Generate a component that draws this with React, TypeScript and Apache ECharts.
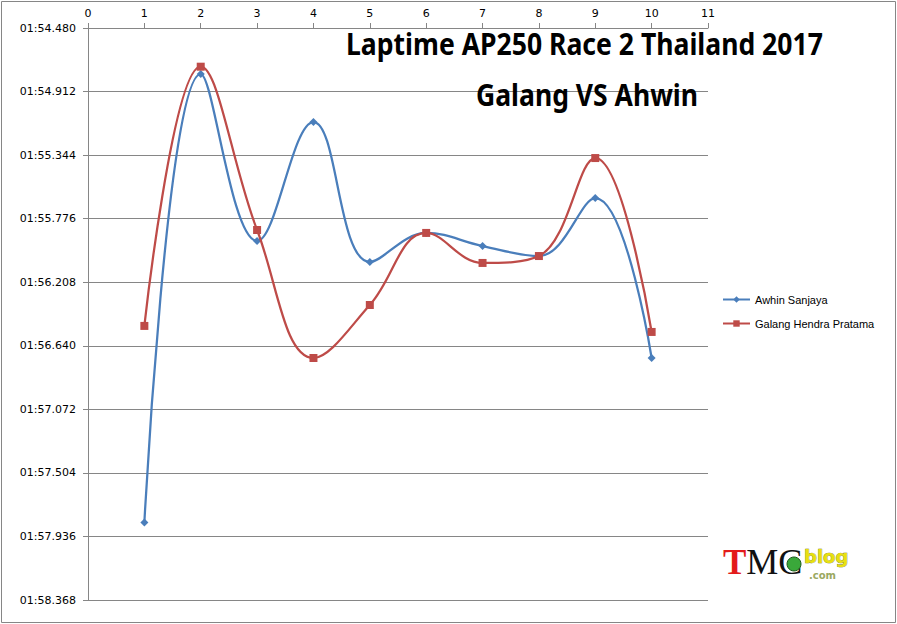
import React, { useEffect, useRef } from "react";
import * as echarts from "echarts";

const laps = [1, 2, 3, 4, 5, 6, 7, 8, 9, 10];
const awhinTimes = ["1:57.842", "1:54.793", "1:55.928", "1:55.119", "1:56.070", "1:55.873", "1:55.962", "1:56.030", "1:55.636", "1:56.723"];
const galangTimes = ["1:56.505", "1:54.743", "1:55.853", "1:56.723", "1:56.363", "1:55.873", "1:56.077", "1:56.030", "1:55.364", "1:56.546"];
const seriesNames = ["Awhin Sanjaya", "Galang Hendra Pratama"];
const titleLines = ["Laptime AP250 Race 2 Thailand 2017", "Galang VS Ahwin"];
const yMin = 114.48;
const yMax = 118.368;
const yStep = 0.432;

const parseLap = (s: string) => {
  const [m, sec] = s.split(":");
  return Number(m) * 60 + Number(sec);
};

const fmtLap = (v: number) => {
  const t = Math.round(v * 1000);
  const m = Math.floor(t / 60000);
  const s = (t - m * 60000) / 1000;
  return String(m).padStart(2, "0") + ":" + s.toFixed(3).padStart(6, "0");
};

const measure = (text: string, font: string) => {
  const c = document.createElement("canvas").getContext("2d");
  if (!c) return 1;
  c.font = font;
  return c.measureText(text).width || 1;
};

export default function App() {
  const ref = useRef<HTMLDivElement>(null);
  useEffect(() => {
    if (!ref.current) return;
    const chart = echarts.init(ref.current, undefined, { renderer: "svg" });
    const titleFont = 'bold 31px "Noto Sans"';
    const t1w = measure(titleLines[0], titleFont);
    const t2w = measure(titleLines[1], titleFont);
    const axisColor = "#868686";
    const blue = "#4A7EBB";
    const red = "#BE4B48";
    chart.setOption({
      animation: false,
      backgroundColor: "#ffffff",
      grid: { left: 88, top: 28, right: 189, bottom: 24, containLabel: false },
      xAxis: {
        type: "value",
        position: "top",
        min: 0,
        max: 11,
        interval: 1,
        axisLine: { show: true, lineStyle: { color: axisColor, width: 1 } },
        axisTick: { show: true, inside: false, length: 5, lineStyle: { color: axisColor } },
        axisLabel: { color: "#000", fontSize: 11, fontFamily: "DejaVu Sans", margin: 9 },
        splitLine: { show: false },
      },
      yAxis: {
        type: "value",
        inverse: true,
        min: yMin,
        max: yMax,
        interval: yStep,
        axisLine: { show: true, lineStyle: { color: axisColor, width: 1 } },
        axisTick: { show: true, inside: false, length: 5, lineStyle: { color: axisColor } },
        axisLabel: { color: "#000", fontSize: 11, fontFamily: "DejaVu Sans", margin: 12, formatter: (v: number) => fmtLap(v) },
        splitLine: { show: true, lineStyle: { color: axisColor, width: 1 } },
      },
      legend: {
        orient: "vertical",
        left: 722,
        top: 294,
        padding: 0,
        itemWidth: 27,
        itemHeight: 8,
        itemGap: 13,
        textStyle: { color: "#000", fontSize: 11, fontFamily: "Liberation Sans" },
        data: seriesNames,
      },
      series: [
        {
          name: seriesNames[0],
          type: "line",
          smooth: 0.4,
          symbol: "diamond",
          symbolSize: 8,
          data: laps.map((l, i) => [l, parseLap(awhinTimes[i])]),
          lineStyle: { color: blue, width: 2.25 },
          itemStyle: { color: blue },
          z: 3,
        },
        {
          name: seriesNames[1],
          type: "line",
          smooth: 0.4,
          symbol: "rect",
          symbolSize: 8,
          data: laps.map((l, i) => [l, parseLap(galangTimes[i])]),
          lineStyle: { color: red, width: 2.25 },
          itemStyle: { color: red },
          z: 4,
        },
      ],
      graphic: [
        {
          type: "rect",
          shape: { x: 1.5, y: 1.5, width: 894, height: 621 },
          style: { fill: "none", stroke: axisColor, lineWidth: 1 },
          silent: true,
          z: 0,
        },
        {
          type: "text",
          x: 346,
          y: 27,
          scaleX: 477 / t1w,
          style: { text: titleLines[0], font: titleFont, fill: "#000", align: "left", verticalAlign: "top" },
          z: 10,
        },
        {
          type: "text",
          x: 476,
          y: 78,
          scaleX: 222 / t2w,
          style: { text: titleLines[1], font: titleFont, fill: "#000", align: "left", verticalAlign: "top" },
          z: 10,
        },
        {
          type: "text",
          x: 723,
          y: 547,
          style: {
            text: "{t|T}{mc|MC}",
            verticalAlign: "top",
            rich: {
              t: { font: 'bold 35px "Liberation Serif"', fill: "#e31b1b", lineHeight: 30 },
              mc: { font: '36px "Liberation Serif"', fill: "#111", lineHeight: 30 },
            },
          },
          z: 10,
        },
        {
          type: "circle",
          shape: { cx: 794, cy: 564, r: 7 },
          style: { fill: "#3aa83a", stroke: "#1a5a1a", lineWidth: 1 },
          z: 11,
        },
        {
          type: "text",
          x: 804,
          y: 547,
          style: { text: "blog", font: 'bold 18px "DejaVu Sans"', fill: "#e8e010", stroke: "#6a6a00", lineWidth: 0.6, verticalAlign: "top" },
          z: 10,
        },
        {
          type: "text",
          x: 809,
          y: 570,
          style: { text: ".com", font: 'bold 10px "DejaVu Sans"', fill: "#9aa860", verticalAlign: "top" },
          z: 10,
        },
      ],
    });
    return () => chart.dispose();
  }, []);
  return <div ref={ref} style={{ position: "fixed", left: 0, top: 0, width: 897, height: 624 }} />;
}
